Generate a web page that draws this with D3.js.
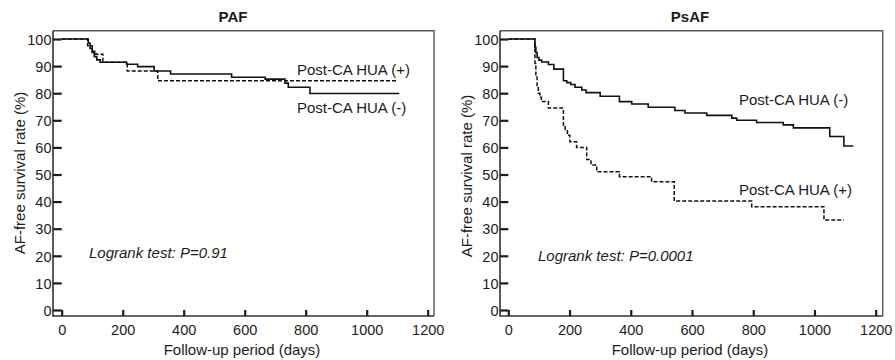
<!DOCTYPE html>
<html>
<head>
<meta charset="utf-8">
<script src="https://cdn.jsdelivr.net/npm/d3@7"></script>
<style>
  html, body { margin: 0; padding: 0; background: #fff; }
  svg { display: block; font-family: "Liberation Sans", Arial, Helvetica, sans-serif; }
</style>
</head>
<body>
<svg id="chart" width="895" height="360"></svg>
<script>
// ---------------- data ----------------
const xTicks = [0, 200, 400, 600, 800, 1000, 1200];
const yTicks = [0, 10, 20, 30, 40, 50, 60, 70, 80, 90, 100];
const panelTitles = ["PAF", "PsAF"];
const xLabel = "Follow-up period (days)";
const yLabel = "AF-free survival rate (%)";
const pValues = ["Logrank test: P=0.91", "Logrank test: P=0.0001"];
const seriesNames = ["Post-CA HUA (-)", "Post-CA HUA (+)"];

// PAF, Post-CA HUA (-) solid
const pafNegDays = [0, 87, 93, 100, 107, 115, 126, 213, 249, 303, 357, 557, 667, 732, 743, 814, 1107];
const pafNegVals = [100, 98.5, 96.5, 95, 93.5, 92.3, 91.4, 90.7, 89.8, 88.2, 87.1, 85.9, 85.2, 83.7, 82.2, 79.9, 79.9];
// PAF, Post-CA HUA (+) dashed
const pafPosDays = [0, 85, 100, 112, 135, 215, 315, 1098];
const pafPosVals = [100, 97.5, 95.5, 94.4, 91.4, 88.2, 84.6, 84.6];

// PsAF, Post-CA HUA (-) solid
const psNegDays = [0, 87, 90, 94, 100, 109, 131, 149, 180, 191, 204, 218, 240, 254, 300, 363, 403, 457, 544, 577, 648, 730, 746, 811, 898, 931, 1050, 1096, 1127];
const psNegVals = [100, 97, 95, 93.2, 92.2, 91.5, 90.6, 88.9, 84.6, 83.9, 83.2, 82.2, 81.2, 80.2, 78.9, 76.9, 76.0, 74.8, 73.6, 72.7, 71.8, 70.8, 70.0, 69.2, 68.3, 67.2, 64.0, 60.5, 60.5];
// PsAF, Post-CA HUA (+) dashed
const psPosDays = [0, 87, 90, 94, 98, 103, 108, 131, 180, 186, 193, 201, 223, 256, 270, 289, 363, 468, 542, 795, 1031, 1096];
const psPosVals = [100, 91, 86, 82, 80, 78.5, 76.9, 74.5, 68.3, 66.5, 64.5, 62.1, 60.0, 55.5, 53.5, 51.0, 49.2, 47.3, 40.2, 38.1, 33.2, 33.2];

// ---------------- layout ----------------
const svg = d3.select("#chart");
const ink = "#1c1c1c";

const panels = [
  {
    title: panelTitles[0], titleX: 233,
    frame: {x0: 53, x1: 434, y0: 30.7, y1: 316},
    xr: [61.7, 427.7],
    ylabX: 24.5, ylabY: 173,
    xlabX: 242,
    neg: {days: pafNegDays, vals: pafNegVals},
    pos: {days: pafPosDays, vals: pafPosVals},
    pText: pValues[0], pX: 89, pY: 258,
    labels: [
      {text: seriesNames[1], x: 297, y: 75},
      {text: seriesNames[0], x: 297, y: 113}
    ]
  },
  {
    title: panelTitles[1], titleX: 690,
    frame: {x0: 500, x1: 882.7, y0: 30.7, y1: 316},
    xr: [508.3, 875.7],
    ylabX: 471.7, ylabY: 176,
    xlabX: 690,
    neg: {days: psNegDays, vals: psNegVals},
    pos: {days: psPosDays, vals: psPosVals},
    pText: pValues[1], pX: 538, pY: 261,
    labels: [
      {text: seriesNames[0], x: 739, y: 105},
      {text: seriesNames[1], x: 739, y: 195}
    ]
  }
];

panels.forEach(p => {
  const g = svg.append("g");
  const x = d3.scaleLinear().domain([0, 1200]).range(p.xr);
  const y = d3.scaleLinear().domain([0, 100]).range([310, 39]);
  const f = p.frame;

  // frame (top & right lighter)
  g.append("path")
    .attr("d", `M${f.x0},${f.y0}H${f.x1}V${f.y1}`)
    .attr("fill", "none").attr("stroke", "#555").attr("stroke-width", 1.4);
  // left & bottom axis lines
  g.append("path")
    .attr("d", `M${f.x0},${f.y0}V${f.y1}H${f.x1}`)
    .attr("fill", "none").attr("stroke", "#333").attr("stroke-width", 1.6);

  // y axis
  const yAxis = g.append("g")
    .attr("transform", `translate(${f.x0},0)`)
    .call(d3.axisLeft(y).tickValues(yTicks).tickFormat(d3.format("d"))
      .tickSize(-(p.xr[0] - f.x0)).tickSizeOuter(0).tickPadding(2));
  yAxis.select(".domain").remove();
  yAxis.selectAll(".tick line").attr("stroke", ink).attr("stroke-width", 2.2);
  yAxis.selectAll(".tick text").attr("fill", ink).style("font-size", "14.5px")
    .attr("x", -1.5).attr("dy", "0.36em");

  // x axis
  const xAxis = g.append("g")
    .attr("transform", `translate(0,${f.y1})`)
    .call(d3.axisBottom(x).tickValues(xTicks).tickFormat(d3.format("d"))
      .tickSize(-6).tickSizeOuter(0));
  xAxis.select(".domain").remove();
  xAxis.selectAll(".tick line").attr("stroke", ink).attr("stroke-width", 2.2);
  xAxis.selectAll(".tick text").attr("fill", ink).style("font-size", "14.5px")
    .attr("y", 19).attr("dy", 0);

  // curves
  const line = d3.line().curve(d3.curveStepAfter)
    .x(d => x(d[0])).y(d => y(d[1]));
  const negPts = p.neg.days.map((d, i) => [d, p.neg.vals[i]]);
  const posPts = p.pos.days.map((d, i) => [d, p.pos.vals[i]]);
  g.append("path").datum(negPts).attr("d", line)
    .attr("fill", "none").attr("stroke", "#111").attr("stroke-width", 1.6);
  g.append("path").datum(posPts).attr("d", line)
    .attr("fill", "none").attr("stroke", "#111").attr("stroke-width", 1.5)
    .attr("stroke-dasharray", "4,2");

  // title
  g.append("text").attr("x", p.titleX).attr("y", 22)
    .attr("text-anchor", "middle").attr("font-weight", "bold")
    .style("font-size", "15px").attr("fill", ink).text(p.title);

  // axis labels
  g.append("text").attr("x", p.xlabX).attr("y", 355)
    .attr("text-anchor", "middle").style("font-size", "15px").attr("fill", ink).text(xLabel);
  g.append("text")
    .attr("transform", `translate(${p.ylabX},${p.ylabY}) rotate(-90)`)
    .attr("text-anchor", "middle").style("font-size", "15px").attr("fill", ink).text(yLabel);

  // p value
  g.append("text").attr("x", p.pX).attr("y", p.pY)
    .style("font-size", "15px").style("font-style", "italic").attr("fill", ink).text(p.pText);

  // series labels
  p.labels.forEach(l => {
    g.append("text").attr("x", l.x).attr("y", l.y)
      .style("font-size", "15px").attr("fill", ink).text(l.text);
  });
});
</script>
</body>
</html>
